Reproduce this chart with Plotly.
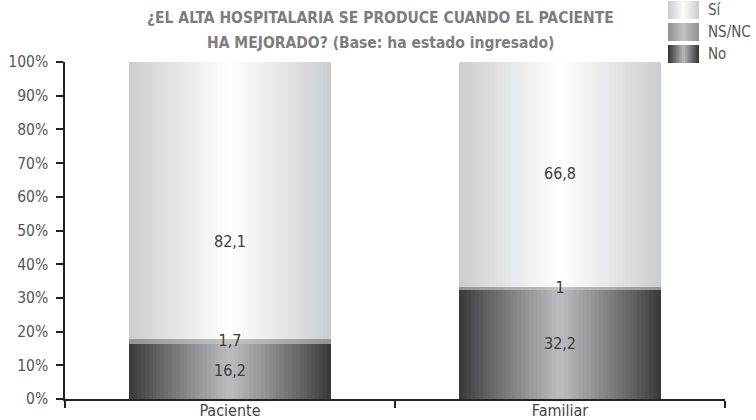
import plotly.graph_objects as go

# Survey results: "¿El alta hospitalaria se produce cuando el paciente ha mejorado?"
categories = ["Paciente", "Familiar"]
series_names = ["No", "NS/NC", "Sí"]
no_values = [16.2, 32.2]
nsnc_values = [1.7, 1.0]
si_values = [82.1, 66.8]
y_tick_values = [0, 10, 20, 30, 40, 50, 60, 70, 80, 90, 100]
y_tick_labels = [f"{v}%" for v in y_tick_values]

# Cylindrical shading: (edge colour, centre colour) per series
shades = {
    "No": ((0x3a, 0x3a, 0x3b), (0xbe, 0xbf, 0xc2)),
    "NS/NC": ((0x92, 0x93, 0x95), (0xc4, 0xc5, 0xc7)),
    "Sí": ((0xcc, 0xcd, 0xd0), (0xff, 0xff, 0xff)),
}
# vertical nudge (pixels, positive = down) for value labels that sit off-centre
label_nudge_px = {("Sí", "Paciente"): 43}

W, H = 756, 420
ML, MR, MT, MB = 65, 31, 62, 21
PW, PH = W - ML - MR, H - MT - MB
FONT = "Liberation Sans Narrow, DejaVu Sans Condensed, Roboto, sans-serif"
BAR_WIDTH = 0.61
LAYERS = 26


def mix(c0, c1, f):
    return "rgb({},{},{})".format(*[round(a + (b - a) * f) for a, b in zip(c0, c1)])


fig = go.Figure()

values_by_series = {"No": no_values, "NS/NC": nsnc_values, "Sí": si_values}
bases = [0.0] * len(categories)
label_x, label_y, label_text = [], [], []
for name in series_names:
    vals = values_by_series[name]
    edge, centre = shades[name]
    for k in range(LAYERS):
        frac = k / LAYERS
        fig.add_trace(go.Bar(
            x=categories, y=vals, base=bases,
            width=BAR_WIDTH * (1 - frac),
            marker=dict(color=mix(edge, centre, frac ** 0.9), line=dict(width=0)),
            showlegend=False, hoverinfo="skip" if k else "x+y+name", name=name,
        ))
    for i, v in enumerate(vals):
        nudge = label_nudge_px.get((name, categories[i]), 0) * 100 / PH
        label_x.append(categories[i])
        label_y.append(bases[i] + v / 2 - nudge)
        label_text.append(f"{v:g}".replace(".", ","))
    bases = [b + v for b, v in zip(bases, vals)]

fig.add_trace(go.Scatter(
    x=label_x, y=label_y, text=label_text, mode="text",
    textfont=dict(family=FONT, size=16, color="#3c3c3c"),
    showlegend=False, hoverinfo="skip",
))


def px_x(px):
    return (px - ML) / PW


def px_y(py):
    return (H - MB - py) / PH


shapes = []
annotations = []

# Two-line title
title_lines = [
    ("<b>¿EL ALTA HOSPITALARIA SE PRODUCE CUANDO EL PACIENTE</b>", 18),
    ("<b>HA MEJORADO? (Base: ha estado ingresado)</b>", 43),
]
for text, cy in title_lines:
    annotations.append(dict(
        x=px_x(380), y=px_y(cy), xref="paper", yref="paper",
        text=text, showarrow=False, xanchor="center", yanchor="middle",
        font=dict(family=FONT, size=15.5, color="#7d7d7d"),
    ))

# Legend with shaded swatches
legend_rows = [("Sí", 10), ("NS/NC", 32), ("No", 54)]
for name, cy in legend_rows:
    edge, centre = shades[name]
    x0, x1 = 668, 699
    n = 10
    for k in range(n):
        frac = k / n
        inset = (x1 - x0) / 2 * frac
        shapes.append(dict(
            type="rect", xref="paper", yref="paper",
            x0=px_x(x0 + inset), x1=px_x(x1 - inset),
            y0=px_y(cy + 9), y1=px_y(cy - 9),
            fillcolor=mix(edge, centre, frac), line=dict(width=0), layer="above",
        ))
    annotations.append(dict(
        x=px_x(706), y=px_y(cy), xref="paper", yref="paper",
        text=name, showarrow=False, xanchor="left", yanchor="middle",
        font=dict(family=FONT, size=15, color="#555555"),
    ))

fig.update_layout(
    width=W, height=H,
    margin=dict(l=ML, r=MR, t=MT, b=MB, autoexpand=False),
    paper_bgcolor="white", plot_bgcolor="white",
    barmode="overlay", bargap=0,
    showlegend=False,
    shapes=shapes, annotations=annotations,
    font=dict(family=FONT, color="#555555"),
)
fig.update_xaxes(
    automargin=False,
    showgrid=False, showline=True, linecolor="#222222", linewidth=1.5,
    ticks="outside", tickson="boundaries", ticklen=7, tickcolor="#222222", tickwidth=1.5,
    tickfont=dict(family=FONT, size=16, color="#444444"),
    ticklabelstandoff=-4,
)
fig.update_yaxes(
    automargin=False,
    range=[0, 100], tickvals=y_tick_values, ticktext=y_tick_labels,
    showgrid=False, zeroline=False, showline=True, linecolor="#222222", linewidth=1.5,
    ticks="outside", ticklen=7, tickcolor="#222222", tickwidth=1.5,
    tickfont=dict(family=FONT, size=15.5, color="#555555"),
    ticklabelstandoff=5,
)

fig.write_html("out.html")
